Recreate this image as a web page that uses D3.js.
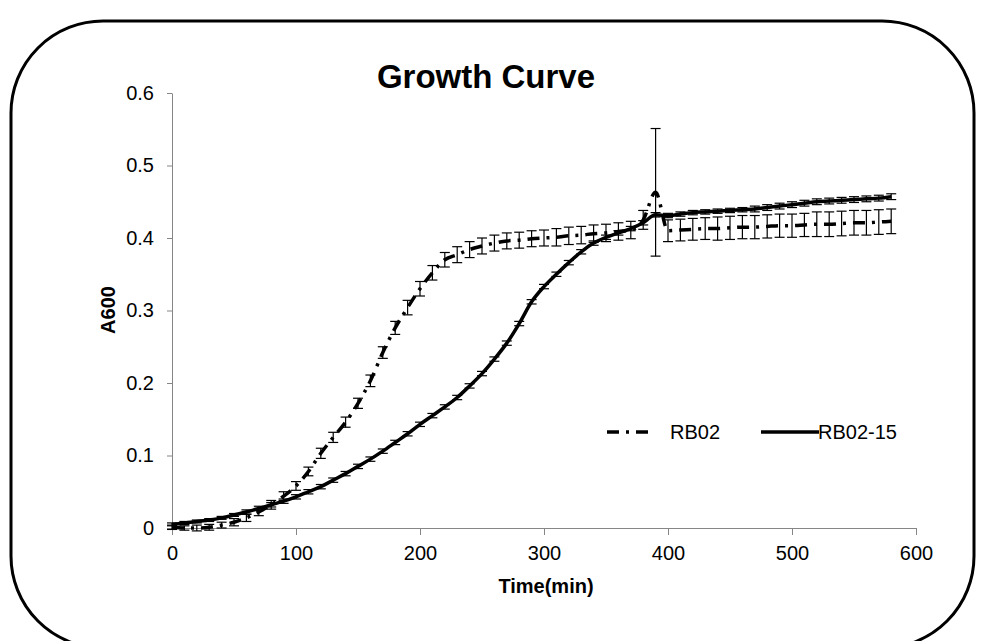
<!DOCTYPE html>
<html>
<head>
<meta charset="utf-8">
<title>Growth Curve</title>
<script src="https://cdn.jsdelivr.net/npm/d3@7"></script>
<style>
    body { margin: 0; background: #fff; }
    text { font-family: Arial, 'Liberation Sans', sans-serif; }
</style>
</head>
<body>
<div id="graph"></div>
<script>

// Time points (min)
var times = [   0,  10,  20,  30,  40,  50,  60,  70,  80,  90,
              100, 110, 120, 130, 140, 150, 160, 170, 180, 190,
              200, 210, 220, 230, 240, 250, 260, 270, 280, 290,
              300, 310, 320, 330, 340, 350, 360, 370, 380, 390,
              400, 410, 420, 430, 440, 450, 460, 470, 480, 490,
              500, 510, 520, 530, 540, 550, 560, 570, 580 ];

// RB02 (dash-dot)
var rb02 = [ 0.001, 0.000, 0.000, 0.001, 0.004, 0.008, 0.014, 0.022, 0.032, 0.044,
             0.058, 0.078, 0.103, 0.125, 0.146, 0.172, 0.203, 0.242, 0.276, 0.304,
             0.330, 0.352, 0.370, 0.377, 0.384, 0.389, 0.393, 0.396, 0.397, 0.399,
             0.400, 0.401, 0.403, 0.404, 0.406, 0.407, 0.409, 0.411, 0.425, 0.463,
             0.410, 0.411, 0.412, 0.413, 0.413, 0.414, 0.415, 0.415, 0.416, 0.417,
             0.417, 0.418, 0.419, 0.419, 0.420, 0.421, 0.421, 0.422, 0.423 ];

var rb02Err = [ 0.003, 0.003, 0.004, 0.004, 0.004, 0.005, 0.005, 0.005, 0.006, 0.006,
                0.006, 0.006, 0.007, 0.007, 0.007, 0.007, 0.008, 0.008, 0.009, 0.010,
                0.010, 0.010, 0.010, 0.011, 0.011, 0.011, 0.011, 0.011, 0.011, 0.011,
                0.011, 0.012, 0.012, 0.012, 0.012, 0.012, 0.012, 0.012, 0.013, 0.088,
                0.015, 0.015, 0.015, 0.015, 0.016, 0.016, 0.016, 0.016, 0.016, 0.016,
                0.016, 0.016, 0.017, 0.017, 0.017, 0.017, 0.017, 0.017, 0.017 ];

// RB02-15 (solid)
var rb0215 = [ 0.005, 0.007, 0.009, 0.011, 0.014, 0.018, 0.022, 0.027, 0.032, 0.037,
               0.043, 0.050, 0.057, 0.066, 0.075, 0.085, 0.095, 0.106, 0.118, 0.130,
               0.143, 0.155, 0.167, 0.180, 0.196, 0.213, 0.233, 0.255, 0.282, 0.312,
               0.333, 0.350, 0.366, 0.381, 0.393, 0.401, 0.407, 0.413, 0.421, 0.432,
               0.431, 0.433, 0.435, 0.436, 0.437, 0.438, 0.439, 0.440, 0.442, 0.444,
               0.446, 0.448, 0.450, 0.451, 0.452, 0.453, 0.454, 0.455, 0.457 ];

var rb0215Err = [ 0.002, 0.002, 0.002, 0.002, 0.002, 0.002, 0.003, 0.003, 0.003, 0.003,
                  0.003, 0.003, 0.003, 0.003, 0.003, 0.003, 0.003, 0.003, 0.003, 0.003,
                  0.003, 0.003, 0.003, 0.003, 0.003, 0.003, 0.003, 0.003, 0.003, 0.003,
                  0.003, 0.003, 0.003, 0.003, 0.003, 0.003, 0.003, 0.003, 0.003, 0.003,
                  0.003, 0.003, 0.003, 0.003, 0.003, 0.003, 0.003, 0.004, 0.004, 0.004,
                  0.004, 0.004, 0.004, 0.004, 0.004, 0.004, 0.004, 0.004, 0.004 ];

var xTicks = [ 0, 100, 200, 300, 400, 500, 600 ];
var yTicks = [ 0, 0.1, 0.2, 0.3, 0.4, 0.5, 0.6 ];

var seriesNames = [ 'RB02', 'RB02-15' ];


// Width and height
var overallWidth  = 982;
var overallHeight = 641;

// plot area inside the frame
var plot = { left: 172, right: 916, top: 93, bottom: 528 };

var dashDot = '12,7,3,7';
var axisGrey = '#868686';

var svg = d3.select ('#graph').append ('svg')
            .attr ('width', overallWidth)
            .attr ('height', overallHeight);

// Rounded frame
svg.append ('rect')
   .attr ('x', 11).attr ('y', 21)
   .attr ('width', 963).attr ('height', 627)
   .attr ('rx', 92).attr ('ry', 92)
   .style ('fill', '#fff')
   .style ('stroke', '#000')
   .style ('stroke-width', 3);

var x = d3.scaleLinear ().domain ([0, 600]).range ([plot.left, plot.right]);
var y = d3.scaleLinear ().domain ([0, 0.6]).range ([plot.bottom, plot.top]);

// Title
svg.append ('text')
   .attr ('x', 486).attr ('y', 88)
   .attr ('text-anchor', 'middle')
   .style ('font-size', '33px')
   .style ('font-weight', 'bold')
   .text ('Growth Curve');

//
// Axes
//
var xAxis = svg.append ('g')
               .attr ('transform', 'translate(0,' + plot.bottom + ')')
               .call (d3.axisBottom (x).tickValues (xTicks).tickSize (7).tickSizeOuter (0).tickPadding (6));

var yAxis = svg.append ('g')
               .attr ('transform', 'translate(' + plot.left + ',0)')
               .call (d3.axisLeft (y).tickValues (yTicks).tickSize (5).tickSizeOuter (0).tickPadding (13)
                                     .tickFormat (function (d) { return d === 0 ? '0' : d3.format ('.1f') (d); }));

[ xAxis, yAxis ].forEach (function (a)
{
    a.select ('.domain').style ('stroke', axisGrey);
    a.selectAll ('.tick line').style ('stroke', axisGrey);
    a.selectAll ('.tick text')
     .style ('font-family', 'Arial, "Liberation Sans", sans-serif')
     .style ('font-size', '20px')
     .style ('fill', '#000');
});

xAxis.selectAll ('.tick text').attr ('dy', '0.95em');

// Axis titles
svg.append ('text')
   .attr ('x', 546).attr ('y', 593)
   .attr ('text-anchor', 'middle')
   .style ('font-size', '20px')
   .style ('font-weight', 'bold')
   .text ('Time(min)');

svg.append ('text')
   .attr ('transform', 'translate(115,310)rotate(-90)')
   .attr ('text-anchor', 'middle')
   .style ('font-size', '20px')
   .style ('font-weight', 'bold')
   .text ('A600');

//
// Error bars
//
var DrawErrorBars = function (vals, errs, cls)
{
    var g = svg.append ('g').attr ('class', cls);
    var capHalf = 5;

    times.forEach (function (t, i)
    {
        var cx = x (t);
        var y0 = y (vals[i] - errs[i]);
        var y1 = y (vals[i] + errs[i]);

        g.append ('line').attr ('x1', cx).attr ('x2', cx).attr ('y1', y0).attr ('y2', y1);
        g.append ('line').attr ('x1', cx - capHalf).attr ('x2', cx + capHalf).attr ('y1', y0).attr ('y2', y0);
        g.append ('line').attr ('x1', cx - capHalf).attr ('x2', cx + capHalf).attr ('y1', y1).attr ('y2', y1);
    });

    g.selectAll ('line').style ('stroke', '#000').style ('stroke-width', 1.2);
}

DrawErrorBars (rb02, rb02Err, 'err_rb02');
DrawErrorBars (rb0215, rb0215Err, 'err_rb0215');

//
// Lines
//
var line = d3.line ()
             .x (function (d) { return x (d[0]); })
             .y (function (d) { return y (d[1]); })
             .curve (d3.curveMonotoneX);

svg.append ('path')
   .datum (times.map (function (t, i) { return [ t, rb0215[i] ]; }))
   .attr ('d', line)
   .style ('fill', 'none')
   .style ('stroke', '#000')
   .style ('stroke-width', 3.5);

svg.append ('path')
   .datum (times.map (function (t, i) { return [ t, rb02[i] ]; }))
   .attr ('d', line)
   .style ('fill', 'none')
   .style ('stroke', '#000')
   .style ('stroke-width', 3.5)
   .style ('stroke-dasharray', dashDot);

//
// Legend
//
var legend = svg.append ('g').attr ('transform', 'translate(0,432)');

legend.append ('line')
      .attr ('x1', 607).attr ('x2', 652).attr ('y1', 0).attr ('y2', 0)
      .style ('stroke', '#000').style ('stroke-width', 3.5)
      .style ('stroke-dasharray', dashDot);

legend.append ('text')
      .attr ('x', 670).attr ('y', 7)
      .style ('font-size', '20px')
      .text (seriesNames[0]);

legend.append ('line')
      .attr ('x1', 761).attr ('x2', 819).attr ('y1', 0).attr ('y2', 0)
      .style ('stroke', '#000').style ('stroke-width', 3.5);

legend.append ('text')
      .attr ('x', 818).attr ('y', 7)
      .style ('font-size', '20px')
      .text (seriesNames[1]);

</script>
</body>
</html>
